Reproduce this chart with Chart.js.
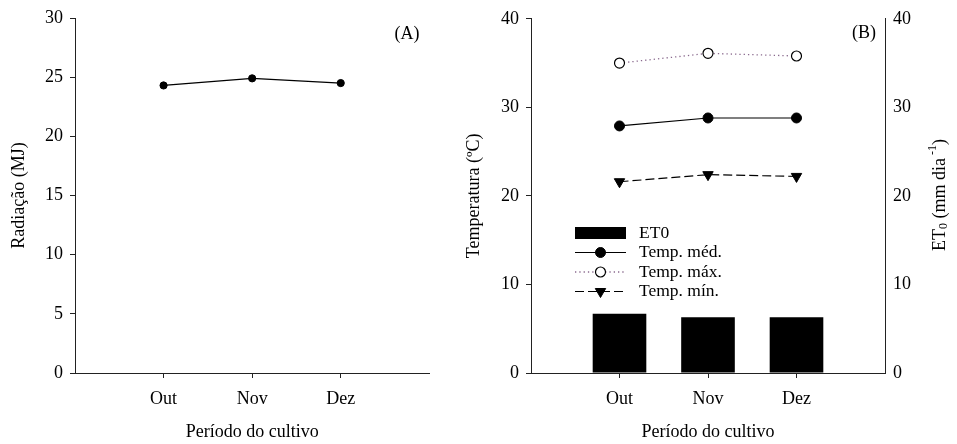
<!DOCTYPE html>
<html><head><meta charset="utf-8">
<script src="https://cdn.jsdelivr.net/npm/chart.js@4.4.1/dist/chart.umd.min.js"></script>
<style>
html,body{margin:0;padding:0;background:#fff;}
#wrap{position:relative;width:957px;height:444px;overflow:hidden;background:#fff;}
#cA{position:absolute;left:0;top:0;}
#cB{position:absolute;left:440px;top:0;}
</style></head><body>
<div id="wrap">
<canvas id="cA" width="440" height="444"></canvas>
<canvas id="cB" width="517" height="444"></canvas>
</div>
<script>
// ---- data ----
const months = ['Out', 'Nov', 'Dez'];
const radiacao = [24.3, 24.9, 24.5];
const tempMed = [27.9, 28.8, 28.8];
const tempMax = [35.0, 36.1, 35.8];
const tempMin = [21.6, 22.4, 22.2];
const et0 = [6.7, 6.3, 6.3];
const radTicks = [0, 5, 10, 15, 20, 25, 30];
const tempTicks = [0, 10, 20, 30, 40];
const et0Ticks = [0, 10, 20, 30, 40];

// ---- setup ----
const FONT = "'Liberation Serif', 'Times New Roman', serif";
Chart.defaults.font.family = FONT;
Chart.defaults.font.size = 18;
Chart.defaults.color = '#000';
const AXIS = '#222';
const xLabels = ['', ...months, ''];
const pad = a => [null, ...a, null];
const edgeTick = ctx => (ctx.index === 0 || ctx.index === xLabels.length - 1) ? 'rgba(0,0,0,0)' : AXIS;

function xScale(title) {
  return {
    type: 'category', labels: xLabels, offset: false,
    grid: { offset: false, drawOnChartArea: false, drawTicks: true, tickLength: 5, tickColor: edgeTick, tickWidth: 1 },
    border: { display: true, color: AXIS, width: 1 },
    ticks: { padding: 10, autoSkip: false, maxRotation: 0, minRotation: 0 },
    title: { display: true, text: title, padding: { top: 0, bottom: 1 } },
    afterFit: s => { s.height = 71; }
  };
}
function yLeft(min, max, tickArr, title, width) {
  return {
    position: 'left', min: min, max: max,
    afterBuildTicks: s => { s.ticks = tickArr.map(v => ({ value: v })); },
    grid: { drawOnChartArea: false, drawTicks: true, tickLength: 5, tickColor: AXIS },
    border: { display: true, color: AXIS, width: 1 },
    ticks: { padding: 7 },
    title: { display: true, text: title, padding: { top: 4, bottom: 0 } },
    afterFit: s => { s.width = width; }
  };
}

function panelLabel(text, x, y) {
  return {
    id: 'panel' + text,
    afterDraw(chart) {
      const c = chart.ctx; c.save();
      c.font = '18px ' + FONT; c.fillStyle = '#000';
      c.textAlign = 'center'; c.textBaseline = 'middle';
      c.fillText(text, x, y); c.restore();
    }
  };
}

function drawMarker(c, ds, x, y) {
  c.save(); c.setLineDash([]);
  const r = ds.pointRadius;
  c.beginPath();
  if (ds.pointStyle === 'triangle') {
    const s = Math.sin(Math.PI / 3) * r;
    c.moveTo(x, y + r); c.lineTo(x - s, y - r / 2); c.lineTo(x + s, y - r / 2); c.closePath();
  } else {
    c.arc(x, y, r, 0, Math.PI * 2);
  }
  c.fillStyle = ds.pointBackgroundColor; c.fill();
  c.lineWidth = ds.pointBorderWidth || 1; c.strokeStyle = ds.pointBorderColor || '#000'; c.stroke();
  c.restore();
}

// ---- chart A ----
new Chart(document.getElementById('cA'), {
  type: 'line',
  data: {
    labels: xLabels,
    datasets: [{
      label: 'Radiação', data: pad(radiacao), borderColor: '#000', borderWidth: 1.2,
      pointRadius: 3.6, pointBackgroundColor: '#000', pointBorderColor: '#000', pointBorderWidth: 1,
      spanGaps: false
    }]
  },
  options: {
    responsive: false, animation: false, devicePixelRatio: 1, events: [],
    layout: { padding: { left: 4, top: 18, right: 10.7, bottom: 0 } },
    plugins: { legend: { display: false }, tooltip: { enabled: false } },
    scales: { x: xScale('Período do cultivo'), y: yLeft(0, 30, radTicks, 'Radiação (MJ)', 71) }
  },
  plugins: [panelLabel('(A)', 407, 34)]
});

// ---- chart B ----
const legendOrder = [3, 0, 1, 2];
const legendPlugin = {
  id: 'customLegend',
  afterDraw(chart) {
    const c = chart.ctx;
    const rows = [233, 252.5, 272, 291.5];
    const x0 = 135, x1 = 186, xm = 160.5, xt = 199;
    legendOrder.forEach((di, i) => {
      const ds = chart.data.datasets[di];
      const y = rows[i];
      c.save();
      if (ds.type === 'bar') {
        c.fillStyle = ds.backgroundColor; c.fillRect(x0, y - 6, x1 - x0, 12);
      } else {
        c.beginPath(); c.setLineDash(ds.borderDash || []);
        c.strokeStyle = ds.borderColor; c.lineWidth = ds.borderWidth;
        c.moveTo(x0, y); c.lineTo(x1, y); c.stroke();
        drawMarker(c, ds, xm, y);
      }
      c.font = '17.5px ' + FONT; c.fillStyle = '#000';
      c.textAlign = 'left'; c.textBaseline = 'middle';
      c.fillText(ds.label, xt, y);
      c.restore();
    });
  }
};
const et0Title = {
  id: 'et0Title',
  afterDraw(chart) {
    const c = chart.ctx;
    const parts = [
      { t: 'ET', s: 18, dy: 0 }, { t: '0', s: 12, dy: 4 },
      { t: ' (mm dia', s: 18, dy: 0 }, { t: ' -1', s: 12, dy: -7 }, { t: ')', s: 18, dy: 0 }
    ];
    c.save();
    let total = 0;
    parts.forEach(p => { c.font = p.s + 'px ' + FONT; p.w = c.measureText(p.t).width; total += p.w; });
    c.translate(500, 195); c.rotate(-Math.PI / 2);
    c.fillStyle = '#000'; c.textBaseline = 'middle'; c.textAlign = 'left';
    let x = -total / 2;
    parts.forEach(p => { c.font = p.s + 'px ' + FONT; c.fillText(p.t, x, p.dy); x += p.w; });
    c.restore();
  }
};

const y1 = {
  position: 'right', min: 0, max: 40,
  afterBuildTicks: s => { s.ticks = et0Ticks.map(v => ({ value: v })); },
  grid: { drawOnChartArea: false, drawTicks: false },
  border: { display: true, color: AXIS, width: 1 },
  ticks: { padding: 8 },
  afterFit: s => { s.width = 72; }
};

new Chart(document.getElementById('cB'), {
  type: 'bar',
  data: {
    labels: xLabels,
    datasets: [
      { type: 'line', label: 'Temp. méd.', data: pad(tempMed), yAxisID: 'y', borderColor: '#000', borderWidth: 1.2,
        pointStyle: 'circle', pointRadius: 5, pointBackgroundColor: '#000', pointBorderColor: '#000', pointBorderWidth: 1 },
      { type: 'line', label: 'Temp. máx.', data: pad(tempMax), yAxisID: 'y', borderColor: '#8a6a8e', borderWidth: 1.3,
        borderDash: [1.3, 3], pointStyle: 'circle', pointRadius: 5, pointBackgroundColor: '#fff', pointBorderColor: '#000', pointBorderWidth: 1.2 },
      { type: 'line', label: 'Temp. mín.', data: pad(tempMin), yAxisID: 'y', borderColor: '#000', borderWidth: 1.2,
        borderDash: [9, 4], pointStyle: 'triangle', pointRotation: 180, pointRadius: 6, pointBackgroundColor: '#000', pointBorderColor: '#000', pointBorderWidth: 1 },
      { type: 'bar', label: 'ET0', data: pad(et0), yAxisID: 'y1', backgroundColor: '#000', borderWidth: 0,
        barPercentage: 0.606, categoryPercentage: 1 }
    ]
  },
  options: {
    responsive: false, animation: false, devicePixelRatio: 1, events: [],
    layout: { padding: { left: 19, top: 18, right: 0, bottom: 0 } },
    plugins: { legend: { display: false }, tooltip: { enabled: false } },
    scales: { x: xScale('Período do cultivo'), y: yLeft(0, 40, tempTicks, 'Temperatura (ºC)', 72), y1: y1 }
  },
  plugins: [panelLabel('(B)', 424, 33), legendPlugin, et0Title]
});
</script>
</body></html>
